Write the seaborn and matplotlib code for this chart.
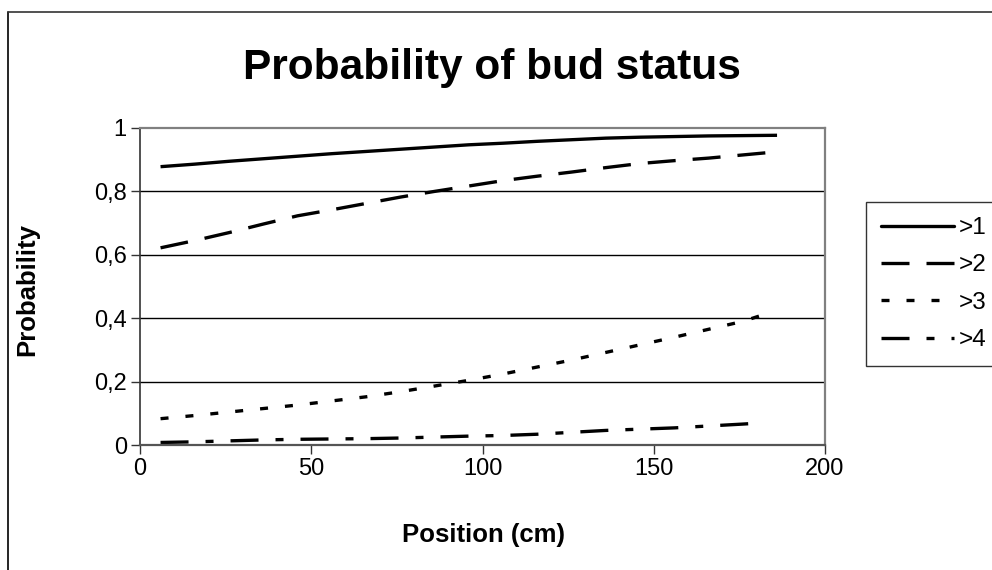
import pandas as pd
import numpy as np
import matplotlib
matplotlib.use('Agg')
import matplotlib.pyplot as plt
import seaborn as sns
from matplotlib.lines import Line2D

# positions along the shoot (cm)
pos_long = [6, 16, 26, 36, 46, 56, 66, 76, 86, 96, 106, 116, 126, 136, 146, 156, 166, 176, 186]
pos_short = [6, 16, 26, 36, 46, 56, 66, 76, 86, 96, 106, 116, 126, 136, 146, 156, 166, 176, 182]

p_gt1 = [0.878, 0.886, 0.895, 0.903, 0.911, 0.919, 0.926, 0.933, 0.940, 0.947,
         0.952, 0.958, 0.963, 0.968, 0.971, 0.973, 0.975, 0.976, 0.977]
p_gt2 = [0.622, 0.645, 0.670, 0.697, 0.723, 0.742, 0.762, 0.782, 0.800, 0.817,
         0.834, 0.848, 0.861, 0.875, 0.888, 0.897, 0.905, 0.915, 0.925]
p_gt3 = [0.083, 0.093, 0.104, 0.115, 0.126, 0.139, 0.152, 0.168, 0.186, 0.204,
         0.224, 0.246, 0.268, 0.292, 0.316, 0.340, 0.365, 0.390, 0.411]
p_gt4 = [0.008, 0.010, 0.013, 0.016, 0.018, 0.019, 0.020, 0.022, 0.025, 0.028,
         0.030, 0.034, 0.040, 0.046, 0.050, 0.054, 0.060, 0.066, 0.070]

labels = ['>1', '>2', '>3', '>4']
x_ticks = [0, 50, 100, 150, 200]
y_ticks = [0, 0.2, 0.4, 0.6, 0.8, 1]
y_ticklabels = ['0', '0,2', '0,4', '0,6', '0,8', '1']

df = pd.concat([
    pd.DataFrame({'pos': pos_long, 'prob': p_gt1, 'status': '>1'}),
    pd.DataFrame({'pos': pos_long, 'prob': p_gt2, 'status': '>2'}),
    pd.DataFrame({'pos': pos_short, 'prob': p_gt3, 'status': '>3'}),
    pd.DataFrame({'pos': pos_short, 'prob': p_gt4, 'status': '>4'}),
])

sns.set_style('white')
plt.rcParams['font.family'] = ['Liberation Sans', 'DejaVu Sans']
plt.rcParams['text.color'] = 'black'
plt.rcParams['xtick.color'] = 'black'
plt.rcParams['ytick.color'] = 'black'

lw = 2.4
styles = {
    '>1': '-',
    '>2': (0, (8.4, 5.1)),
    '>3': (0, (2.4, 5.1)),
    '>4': (0, (8.4, 5.1, 2.4, 5.1)),
}

fig = plt.figure(figsize=(9.92, 5.70), dpi=100)
W, H = 992, 570
ax = fig.add_axes([140 / W, 1 - 445 / H, (825 - 140) / W, (445 - 128) / H])

for lab in labels:
    sub = df[df['status'] == lab]
    sns.lineplot(data=sub, x='pos', y='prob', ax=ax, color='black',
                 linewidth=lw, linestyle=styles[lab], label=lab,
                 solid_capstyle='butt', dash_capstyle='butt')

ax.set_xlim(0, 200)
ax.set_ylim(0, 1)
ax.set_xticks(x_ticks)
ax.set_xticklabels([str(t) for t in x_ticks], fontsize=17)
ax.set_yticks(y_ticks)
ax.set_yticklabels(y_ticklabels, fontsize=17)
ax.tick_params(axis='both', direction='out', length=6.5, width=1, color='#333333',
               labelcolor='black', bottom=True, left=True, pad=3)

for y in [0.2, 0.4, 0.6, 0.8]:
    ax.axhline(y, color='black', linewidth=1, zorder=0)

for side in ['top', 'right', 'bottom']:
    ax.spines[side].set_color('#808080')
    ax.spines[side].set_linewidth(1.6)
ax.spines['left'].set_color('#333333')
ax.spines['left'].set_linewidth(1.2)
ax.spines['bottom'].set_color('#555555')

ax.set_xlabel('')
ax.set_ylabel('')
fig.text(492 / W, 1 - 68 / H, 'Probability of bud status', ha='center', va='center',
         fontsize=30.5, fontweight='bold', color='black')
fig.text(484 / W, 1 - 535 / H, 'Position (cm)', ha='center', va='center',
         fontsize=18.5, fontweight='bold', color='black')
fig.text(27 / W, 1 - 290 / H, 'Probability', ha='center', va='center',
         rotation=90, fontsize=18.5, fontweight='bold', color='black')

ax.get_legend().remove()
handles = [Line2D([], [], color='black', linewidth=lw, linestyle=styles[l],
                  dash_capstyle='butt') for l in labels]
leg = fig.legend(handles, labels, loc='upper left',
                 bbox_to_anchor=(866 / W, 1 - 202 / H), borderaxespad=0,
                 fontsize=17.5, frameon=True, fancybox=False, handlelength=3.0,
                 handletextpad=0.2, labelspacing=0.63, borderpad=0.62)
leg.get_frame().set_edgecolor('black')
leg.get_frame().set_linewidth(1)
for t in leg.get_texts():
    t.set_color('black')

# outer chart frame (left and top edges visible)
fig.add_artist(Line2D([8 / W, 8 / W], [0, 1 - 12 / H], transform=fig.transFigure,
                      color='black', linewidth=1.2))
fig.add_artist(Line2D([8 / W, 1], [1 - 12 / H, 1 - 12 / H], transform=fig.transFigure,
                      color='#333333', linewidth=1.2))

fig.savefig('out.png', dpi=100)
